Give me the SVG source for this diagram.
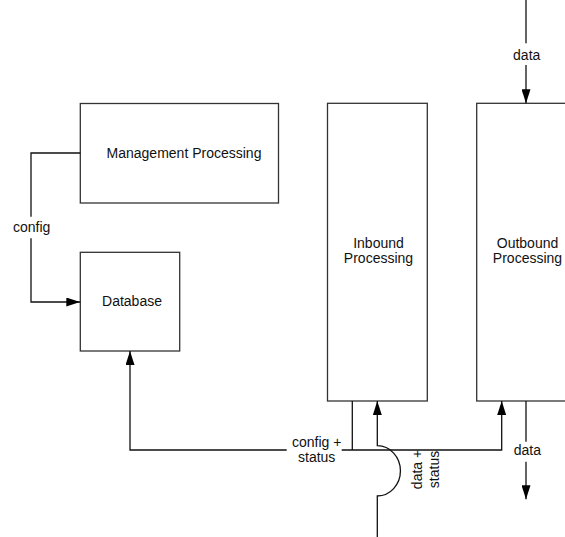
<svg xmlns="http://www.w3.org/2000/svg" width="565" height="537" viewBox="0 0 565 537">
  <style>
    .box { fill: #ffffff; stroke: #333333; stroke-width: 1.3; }
    .wire { fill: none; stroke: #111111; stroke-width: 1.3; }
    .lbl { font-family: "Liberation Sans", Arial, sans-serif; font-size: 14px; fill: #111111; }
    .mid { text-anchor: middle; }
  </style>
  <defs>
    <marker id="arrow" viewBox="0 0 14 9" refX="14" refY="4.5" markerWidth="14" markerHeight="9" markerUnits="userSpaceOnUse" orient="auto">
      <path d="M0,0 L14,4.5 L0,9 z" fill="#000000"/>
    </marker>
  </defs>

  <rect width="565" height="537" fill="#ffffff"/>

  <!-- nodes -->
  <g id="management">
    <rect class="box" x="80.3" y="103.5" width="198.2" height="99.5"/>
    <text class="lbl mid" x="184" y="158.3">Management Processing</text>
  </g>
  <g id="database">
    <rect class="box" x="80.3" y="252.3" width="99.4" height="98.7"/>
    <text class="lbl mid" x="132" y="306">Database</text>
  </g>
  <g id="inbound">
    <rect class="box" x="327.5" y="103.3" width="99.8" height="297.7"/>
    <text class="lbl mid" x="378.5" y="248.3">Inbound</text>
    <text class="lbl mid" x="378.5" y="263.3">Processing</text>
  </g>
  <g id="outbound">
    <rect class="box" x="476.7" y="103.3" width="100" height="297.7"/>
    <text class="lbl mid" x="527.5" y="248.3">Outbound</text>
    <text class="lbl mid" x="527.5" y="263.3">Processing</text>
  </g>

  <!-- connectors -->
  <g id="connectors">
    <!-- config: management to database -->
    <path class="wire" d="M80.3,153 H31 V216.7"/>
    <path class="wire" d="M31,238.3 V302 H80.3" marker-end="url(#arrow)"/>
    <text class="lbl mid" x="31.7" y="232.3">config</text>

    <!-- config + status: inbound to database -->
    <path class="wire" d="M286.7,450 H130 V351" marker-end="url(#arrow)"/>
    <path class="wire" d="M352.3,401 V450"/>
    <text class="lbl mid" x="316.7" y="446.7">config +</text>
    <text class="lbl mid" x="316.7" y="461.7">status</text>

    <!-- data + status: bus to outbound -->
    <path class="wire" d="M341.7,450 H501.7 V401" marker-end="url(#arrow)"/>

    <!-- incoming line to inbound, hopping over the bus -->
    <path class="wire" d="M377.3,537 V496 A23,25 0 0 0 377.3,445.7 V401" marker-end="url(#arrow)"/>
    <g transform="translate(0,469.5) rotate(-90)">
      <text class="lbl mid" x="0" y="422">data +</text>
      <text class="lbl mid" x="0" y="438.5">status</text>
    </g>

    <!-- data into outbound -->
    <path class="wire" d="M526,0 V43.3"/>
    <path class="wire" d="M526,65 V103.3" marker-end="url(#arrow)"/>
    <text class="lbl mid" x="526.7" y="60">data</text>

    <!-- data out of outbound -->
    <path class="wire" d="M526,401 V441.7"/>
    <path class="wire" d="M526,461.7 V499.3" marker-end="url(#arrow)"/>
    <text class="lbl mid" x="527.3" y="455">data</text>
  </g>
</svg>
